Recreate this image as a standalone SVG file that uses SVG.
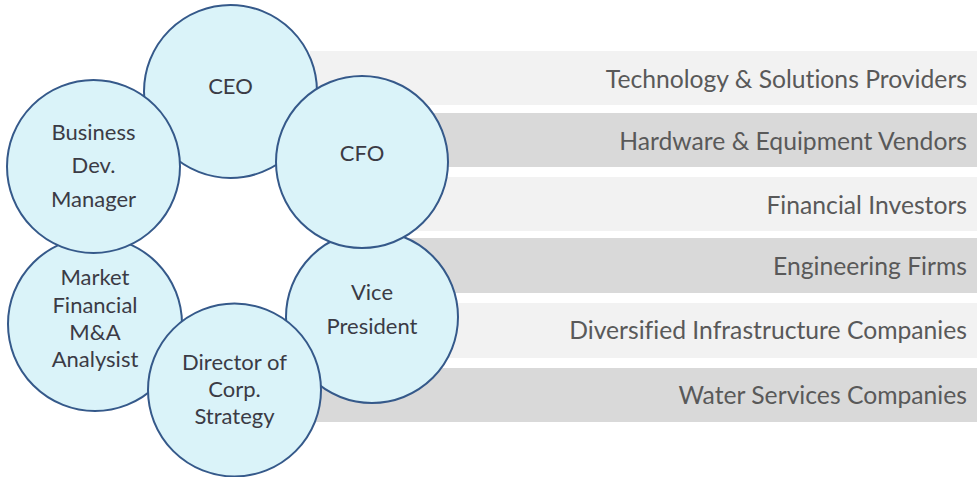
<svg xmlns="http://www.w3.org/2000/svg" width="977" height="477" viewBox="0 0 977 477">
  <style>
    .bar-light { fill: #F2F2F2; }
    .bar-dark { fill: #D9D9D9; }
    .bar-label { font-family: Lato, "Liberation Sans", sans-serif; font-size: 24.7px; fill: #595959; text-anchor: end; font-variant-ligatures: none; }
    .role { fill: #DAF3F9; stroke: #35598A; stroke-width: 2; }
    .role-label { font-family: Lato, "Liberation Sans", sans-serif; font-size: 22px; fill: #3B3B45; text-anchor: middle; font-variant-ligatures: none; }
  </style>

  <!-- stakeholder bands -->
  <g id="bands">
    <g id="band-tech">
      <rect class="bar-light" x="310" y="51" width="667" height="54"/>
      <text class="bar-label" x="967" y="87.5">Technology &amp; Solutions Providers</text>
    </g>
    <g id="band-hardware">
      <rect class="bar-dark" x="330" y="113" width="647" height="54"/>
      <text class="bar-label" x="967" y="150">Hardware &amp; Equipment Vendors</text>
    </g>
    <g id="band-investors">
      <rect class="bar-light" x="330" y="177" width="647" height="54"/>
      <text class="bar-label" x="967" y="213.5">Financial Investors</text>
    </g>
    <g id="band-engineering">
      <rect class="bar-dark" x="390" y="238" width="587" height="55"/>
      <text class="bar-label" x="967" y="275">Engineering Firms</text>
    </g>
    <g id="band-infrastructure">
      <rect class="bar-light" x="330" y="303" width="647" height="55"/>
      <text class="bar-label" x="967" y="338.5">Diversified Infrastructure Companies</text>
    </g>
    <g id="band-water">
      <rect class="bar-dark" x="310" y="368" width="667" height="54"/>
      <text class="bar-label" x="967" y="403.5">Water Services Companies</text>
    </g>
  </g>

  <!-- ring of roles, drawn back to front -->
  <g id="vice-president">
    <circle class="role" cx="372" cy="317" r="86"/>
    <text class="role-label" x="372" y="300">Vice</text>
    <text class="role-label" x="372" y="334">President</text>
  </g>
  <g id="market-analyst">
    <circle class="role" cx="95" cy="324" r="87"/>
    <text class="role-label" x="95" y="285">Market</text>
    <text class="role-label" x="95" y="313">Financial</text>
    <text class="role-label" x="95" y="340">M&amp;A</text>
    <text class="role-label" x="95" y="367">Analysist</text>
  </g>
  <g id="ceo">
    <circle class="role" cx="230.5" cy="91.5" r="86.5"/>
    <text class="role-label" x="230.5" y="94">CEO</text>
  </g>
  <g id="director-strategy">
    <circle class="role" cx="234.5" cy="390" r="86.5"/>
    <text class="role-label" x="234.5" y="370">Director of</text>
    <text class="role-label" x="234.5" y="397">Corp.</text>
    <text class="role-label" x="234.5" y="424">Strategy</text>
  </g>
  <g id="cfo">
    <circle class="role" cx="362" cy="162" r="86"/>
    <text class="role-label" x="362" y="161">CFO</text>
  </g>
  <g id="business-dev">
    <circle class="role" cx="93.5" cy="166.5" r="86.5"/>
    <text class="role-label" x="93.5" y="140">Business</text>
    <text class="role-label" x="93.5" y="173">Dev.</text>
    <text class="role-label" x="93.5" y="207">Manager</text>
  </g>

  <g id="connectors"></g>
</svg>
